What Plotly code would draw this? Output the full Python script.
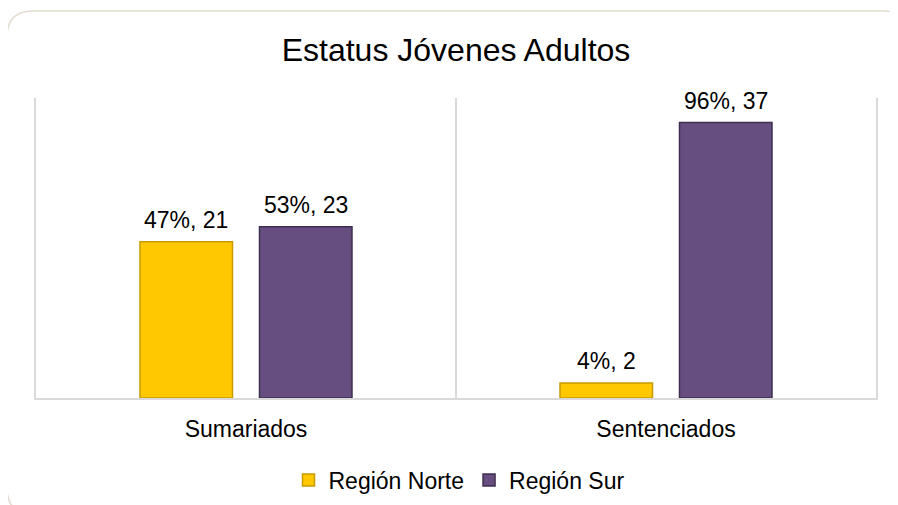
import plotly.graph_objects as go

# ── datos ────────────────────────────────────────────────
categorias = ["Sumariados", "Sentenciados"]
norte_valores = [21, 2]
norte_pct = ["47%", "4%"]
sur_valores = [23, 37]
sur_pct = ["53%", "96%"]

# la página añade 8 px de margen al div, se compensa aquí
OFF = 8
W, H = 898, 505
ML, MT = 36 - OFF, 98 - OFF
PW, PH = 840, 300
MR, MB = W - ML - PW, H - MT - PH
FUENTE = "Arial, Liberation Sans, sans-serif"


def px(x, y):
    """pixel de la página -> coordenadas paper"""
    return (x - OFF - ML) / PW, (MT + PH - (y - OFF)) / PH


fig = go.Figure()
fig.add_trace(go.Bar(
    x=categorias, y=norte_valores, name="Región Norte",
    marker=dict(color="#FFC800", line=dict(color="#C99A00", width=1.5)),
))
fig.add_trace(go.Bar(
    x=categorias, y=sur_valores, name="Región Sur",
    marker=dict(color="#664F80", line=dict(color="#3E2F50", width=1.5)),
))

# etiquetas "pct, valor" sobre cada barra
desfase = 0.142
for i, cat in enumerate(categorias):
    for dx, v, p in ((-desfase, norte_valores[i], norte_pct[i]),
                     (desfase, sur_valores[i], sur_pct[i])):
        fig.add_annotation(
            x=i + dx, y=v, text=f"{p}, {v}", showarrow=False,
            yanchor="middle", yshift=22,
            font=dict(family=FUENTE, size=23, color="#000000"),
        )

# borde redondeado del área del gráfico
x0, y0 = px(7, 11)
x1, y1 = px(910, 514)
r = 26
rx, ry = r / PW, r / PH
path = (f"M{x0 + rx},{y0} L{x1 - rx},{y0} Q{x1},{y0} {x1},{y0 - ry} "
        f"L{x1},{y1 + ry} Q{x1},{y1} {x1 - rx},{y1} "
        f"L{x0 + rx},{y1} Q{x0},{y1} {x0},{y1 + ry} "
        f"L{x0},{y0 - ry} Q{x0},{y0} {x0 + rx},{y0} Z")
fig.add_shape(type="path", path=path, xref="paper", yref="paper",
              line=dict(color="#E2DDD0", width=1.5), layer="below")

_, ley_y = px(0, 480)
fig.update_layout(
    width=W, height=H,
    margin=dict(l=ML, r=MR, t=MT, b=MB),
    paper_bgcolor="white", plot_bgcolor="white",
    barmode="group", bargap=0.431, bargroupgap=0.226,
    font=dict(family=FUENTE, color="#000000"),
    title=dict(text="Estatus Jóvenes Adultos", x=(456 - OFF) / W, xanchor="center",
               xref="container", y=1 - (50 - OFF) / H, yref="container",
               yanchor="middle",
               font=dict(family=FUENTE, size=32, color="#000000")),
    showlegend=True,
    legend=dict(orientation="h", x=px(459, 0)[0], xanchor="center",
                y=ley_y, yanchor="middle",
                font=dict(family=FUENTE, size=23, color="#000000"),
                itemwidth=30, traceorder="normal"),
)
fig.update_xaxes(
    tickson="boundaries", showgrid=True, gridcolor="#D9D9D9", gridwidth=1.5,
    showline=True, linecolor="#D9D9D9", linewidth=1.5,
    ticks="", tickfont=dict(family=FUENTE, size=23, color="#000000"),
    ticklabelstandoff=10,
)
fig.update_yaxes(
    range=[0, 40.3], showticklabels=False, showgrid=False, zeroline=False,
    ticks="", showline=True, mirror=True, linecolor="#D9D9D9", linewidth=1.5,
)

fig.write_html("out.html")
